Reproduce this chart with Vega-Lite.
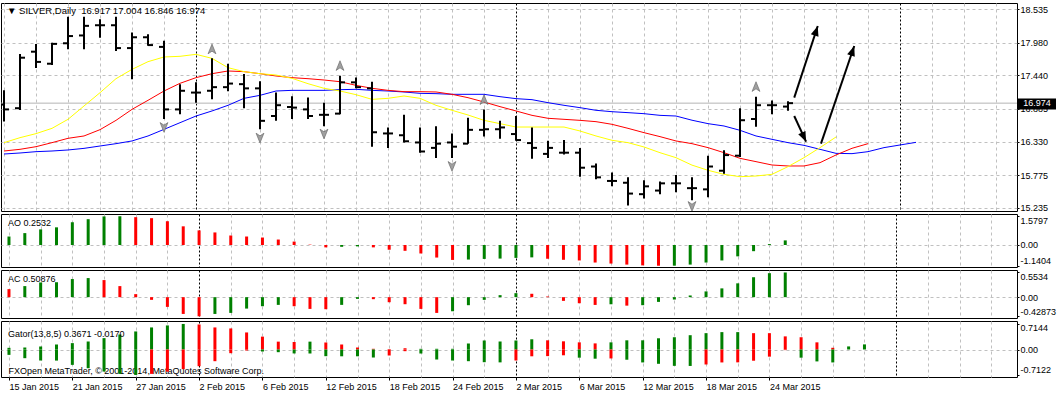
{
"$schema": "https://vega.github.io/schema/vega-lite/v6.json",
"padding": {"top": 2, "left": 0, "right": 0, "bottom": 0},
"background": "white",
"spacing": 3,
"bounds": "flush",
"resolve": {"scale": {"x": "independent", "y": "independent"}},
"config": {
 "view": {"stroke": "#000000", "strokeWidth": 1, "fill": "white"},
 "font": "Liberation Sans",
 "axis": {"labelFont": "Liberation Sans", "labelFontSize": 9, "labelColor": "#000000", "tickColor": "#000000", "domain": false, "titleFont": "Liberation Sans", "labelOverlap": false},
 "title": {"font": "Liberation Sans", "fontSize": 9, "fontWeight": "normal", "color": "#000000", "anchor": "start", "frame": "group", "baseline": "middle"}
},
"datasets": {
 "ohlc": [
  {"i":0,"date":"2015-01-15","open":16.95,"high":17.19,"low":16.67,"close":16.87},
  {"i":1,"date":"2015-01-16","open":16.89,"high":17.79,"low":16.86,"close":17.73},
  {"i":2,"date":"2015-01-19","open":17.83,"high":17.96,"low":17.56,"close":17.66},
  {"i":3,"date":"2015-01-20","open":17.63,"high":17.98,"low":17.61,"close":17.96},
  {"i":4,"date":"2015-01-21","open":17.97,"high":18.41,"low":17.87,"close":18.09},
  {"i":5,"date":"2015-01-22","open":18.10,"high":18.41,"low":17.87,"close":18.26},
  {"i":6,"date":"2015-01-23","open":18.27,"high":18.37,"low":18.06,"close":18.27},
  {"i":7,"date":"2015-01-26","open":18.27,"high":18.41,"low":17.84,"close":17.89},
  {"i":8,"date":"2015-01-27","open":17.89,"high":18.15,"low":17.37,"close":18.07},
  {"i":9,"date":"2015-01-28","open":18.07,"high":18.12,"low":17.93,"close":17.94},
  {"i":10,"date":"2015-01-29","open":17.91,"high":18.01,"low":16.71,"close":16.87},
  {"i":11,"date":"2015-01-30","open":16.87,"high":17.29,"low":16.79,"close":17.18},
  {"i":12,"date":"2015-02-02","open":17.15,"high":17.32,"low":16.98,"close":17.15},
  {"i":13,"date":"2015-02-03","open":17.18,"high":17.72,"low":17.04,"close":17.24},
  {"i":14,"date":"2015-02-04","open":17.24,"high":17.63,"low":17.17,"close":17.30},
  {"i":15,"date":"2015-02-05","open":17.29,"high":17.46,"low":16.89,"close":17.22},
  {"i":16,"date":"2015-02-06","open":17.22,"high":17.34,"low":16.54,"close":16.68},
  {"i":17,"date":"2015-02-09","open":16.76,"high":17.15,"low":16.68,"close":16.94},
  {"i":18,"date":"2015-02-10","open":16.91,"high":17.09,"low":16.71,"close":16.90},
  {"i":19,"date":"2015-02-11","open":16.87,"high":17.07,"low":16.71,"close":16.76},
  {"i":20,"date":"2015-02-12","open":16.78,"high":16.98,"low":16.59,"close":16.78},
  {"i":21,"date":"2015-02-13","open":16.80,"high":17.43,"low":16.79,"close":17.32},
  {"i":22,"date":"2015-02-16","open":17.32,"high":17.40,"low":17.22,"close":17.24},
  {"i":23,"date":"2015-02-17","open":17.22,"high":17.33,"low":16.25,"close":16.49},
  {"i":24,"date":"2015-02-18","open":16.47,"high":16.57,"low":16.23,"close":16.47},
  {"i":25,"date":"2015-02-19","open":16.44,"high":16.78,"low":16.32,"close":16.34},
  {"i":26,"date":"2015-02-20","open":16.32,"high":16.57,"low":16.15,"close":16.17},
  {"i":27,"date":"2015-02-23","open":16.23,"high":16.59,"low":16.06,"close":16.30},
  {"i":28,"date":"2015-02-24","open":16.32,"high":16.47,"low":16.06,"close":16.25},
  {"i":29,"date":"2015-02-25","open":16.30,"high":16.73,"low":16.30,"close":16.53},
  {"i":30,"date":"2015-02-26","open":16.53,"high":16.87,"low":16.42,"close":16.54},
  {"i":31,"date":"2015-02-27","open":16.54,"high":16.68,"low":16.38,"close":16.57},
  {"i":32,"date":"2015-03-02","open":16.46,"high":16.76,"low":16.35,"close":16.36},
  {"i":33,"date":"2015-03-03","open":16.31,"high":16.57,"low":16.05,"close":16.23},
  {"i":34,"date":"2015-03-04","open":16.13,"high":16.35,"low":16.06,"close":16.23},
  {"i":35,"date":"2015-03-05","open":16.15,"high":16.36,"low":16.12,"close":16.15},
  {"i":36,"date":"2015-03-06","open":16.15,"high":16.23,"low":15.75,"close":15.90},
  {"i":37,"date":"2015-03-09","open":15.92,"high":15.97,"low":15.71,"close":15.74},
  {"i":38,"date":"2015-03-10","open":15.68,"high":15.82,"low":15.59,"close":15.68},
  {"i":39,"date":"2015-03-11","open":15.65,"high":15.74,"low":15.27,"close":15.47},
  {"i":40,"date":"2015-03-12","open":15.46,"high":15.69,"low":15.39,"close":15.59},
  {"i":41,"date":"2015-03-13","open":15.52,"high":15.67,"low":15.46,"close":15.64},
  {"i":42,"date":"2015-03-16","open":15.64,"high":15.78,"low":15.49,"close":15.64},
  {"i":43,"date":"2015-03-17","open":15.56,"high":15.74,"low":15.36,"close":15.56},
  {"i":44,"date":"2015-03-18","open":15.54,"high":16.10,"low":15.41,"close":15.92},
  {"i":45,"date":"2015-03-19","open":15.85,"high":16.19,"low":15.80,"close":16.11},
  {"i":46,"date":"2015-03-20","open":16.10,"high":16.89,"low":16.08,"close":16.69},
  {"i":47,"date":"2015-03-23","open":16.71,"high":17.08,"low":16.58,"close":16.94},
  {"i":48,"date":"2015-03-24","open":16.94,"high":17.02,"low":16.79,"close":16.94},
  {"i":49,"date":"2015-03-25","open":16.917,"high":17.004,"low":16.846,"close":16.974}
 ],
 "jaw": [
  {"i":0,"v":16.128},{"i":1,"v":16.145},{"i":2,"v":16.167},{"i":3,"v":16.178},{"i":4,"v":16.195},{"i":5,"v":16.222},{"i":6,"v":16.261},{"i":7,"v":16.300},{"i":8,"v":16.345},{"i":9,"v":16.428},
  {"i":10,"v":16.538},{"i":11,"v":16.649},{"i":12,"v":16.760},{"i":13,"v":16.844},{"i":14,"v":16.938},{"i":15,"v":17.054},{"i":16,"v":17.104},{"i":17,"v":17.176},{"i":18,"v":17.187},{"i":19,"v":17.187},
  {"i":20,"v":17.187},{"i":21,"v":17.198},{"i":22,"v":17.204},{"i":23,"v":17.187},{"i":24,"v":17.176},{"i":25,"v":17.160},{"i":26,"v":17.137},{"i":27,"v":17.132},{"i":28,"v":17.121},{"i":29,"v":17.121},
  {"i":30,"v":17.121},{"i":31,"v":17.082},{"i":32,"v":17.049},{"i":33,"v":17.032},{"i":34,"v":16.982},{"i":35,"v":16.938},{"i":36,"v":16.899},{"i":37,"v":16.855},{"i":38,"v":16.832},{"i":39,"v":16.816},
  {"i":40,"v":16.799},{"i":41,"v":16.771},{"i":42,"v":16.760},{"i":43,"v":16.690},{"i":44,"v":16.633},{"i":45,"v":16.594},{"i":46,"v":16.522},{"i":47,"v":16.428},{"i":48,"v":16.372},{"i":49,"v":16.317},
  {"i":50,"v":16.272},{"i":51,"v":16.206},{"i":52,"v":16.139},{"i":53,"v":16.134},{"i":54,"v":16.167},{"i":55,"v":16.234},{"i":56,"v":16.278},{"i":57,"v":16.322}
 ],
 "teeth": [
  {"i":0,"v":16.178},{"i":1,"v":16.206},{"i":2,"v":16.250},{"i":3,"v":16.317},{"i":4,"v":16.389},{"i":5,"v":16.428},{"i":6,"v":16.533},{"i":7,"v":16.688},{"i":8,"v":16.871},{"i":9,"v":17.021},
  {"i":10,"v":17.176},{"i":11,"v":17.304},{"i":12,"v":17.398},{"i":13,"v":17.464},{"i":14,"v":17.509},{"i":15,"v":17.498},{"i":16,"v":17.464},{"i":17,"v":17.426},{"i":18,"v":17.398},{"i":19,"v":17.381},
  {"i":20,"v":17.359},{"i":21,"v":17.331},{"i":22,"v":17.270},{"i":23,"v":17.221},{"i":24,"v":17.187},{"i":25,"v":17.165},{"i":26,"v":17.165},{"i":27,"v":17.160},{"i":28,"v":17.121},{"i":29,"v":17.065},
  {"i":30,"v":16.993},{"i":31,"v":16.916},{"i":32,"v":16.844},{"i":33,"v":16.771},{"i":34,"v":16.722},{"i":35,"v":16.705},{"i":36,"v":16.688},{"i":37,"v":16.666},{"i":38,"v":16.622},{"i":39,"v":16.555},
  {"i":40,"v":16.483},{"i":41,"v":16.417},{"i":42,"v":16.345},{"i":43,"v":16.300},{"i":44,"v":16.234},{"i":45,"v":16.150},{"i":46,"v":16.056},{"i":47,"v":16.001},{"i":48,"v":15.945},{"i":49,"v":15.929},
  {"i":50,"v":15.929},{"i":51,"v":15.984},{"i":52,"v":16.112},{"i":53,"v":16.223},{"i":54,"v":16.300}
 ],
 "lips": [
  {"i":0,"v":16.317},{"i":1,"v":16.400},{"i":2,"v":16.467},{"i":3,"v":16.555},{"i":4,"v":16.705},{"i":5,"v":16.927},{"i":6,"v":17.148},{"i":7,"v":17.381},{"i":8,"v":17.536},{"i":9,"v":17.664},
  {"i":10,"v":17.742},{"i":11,"v":17.753},{"i":12,"v":17.786},{"i":13,"v":17.719},{"i":14,"v":17.564},{"i":15,"v":17.498},{"i":16,"v":17.464},{"i":17,"v":17.442},{"i":18,"v":17.387},{"i":19,"v":17.298},
  {"i":20,"v":17.221},{"i":21,"v":17.176},{"i":22,"v":17.115},{"i":23,"v":17.037},{"i":24,"v":17.054},{"i":25,"v":17.093},{"i":26,"v":17.054},{"i":27,"v":16.938},{"i":28,"v":16.855},{"i":29,"v":16.777},
  {"i":30,"v":16.688},{"i":31,"v":16.633},{"i":32,"v":16.577},{"i":33,"v":16.577},{"i":34,"v":16.577},{"i":35,"v":16.577},{"i":36,"v":16.511},{"i":37,"v":16.428},{"i":38,"v":16.356},{"i":39,"v":16.317},
  {"i":40,"v":16.245},{"i":41,"v":16.150},{"i":42,"v":16.067},{"i":43,"v":15.943},{"i":44,"v":15.857},{"i":45,"v":15.790},{"i":46,"v":15.751},{"i":47,"v":15.762},{"i":48,"v":15.790},{"i":49,"v":15.918},
  {"i":50,"v":16.067},{"i":51,"v":16.234},{"i":52,"v":16.411}
 ],
 "fractals": [
  {"i":10,"dir":"down","v":16.577},{"i":13,"dir":"up","v":17.869},{"i":16,"dir":"down","v":16.400},{"i":20,"dir":"down","v":16.467},{"i":21,"dir":"up","v":17.592},
  {"i":28,"dir":"down","v":15.929},{"i":30,"dir":"up","v":17.026},{"i":43,"dir":"down","v":15.263},{"i":47,"dir":"up","v":17.243}
 ],
 "arrows": [
  {"id":"a1","i":49.39,"v":17.065,"i2":50.86,"v2":18.257},
  {"id":"a2","i":49.39,"v":16.760,"i2":50.13,"v2":16.333},
  {"id":"a3","i":51.06,"v":16.300,"i2":53.14,"v2":17.925}
 ],
 "last": [{"price":16.974}],
 "ao": [
  {"i":0,"v":0.466,"d":"up"},{"i":1,"v":0.653,"d":"up"},{"i":2,"v":0.858,"d":"up"},{"i":3,"v":0.97,"d":"up"},{"i":4,"v":1.25,"d":"up"},{"i":5,"v":1.418,"d":"up"},{"i":6,"v":1.57,"d":"up"},{"i":7,"v":1.5797,"d":"up"},{"i":8,"v":1.53,"d":"dn"},{"i":9,"v":1.474,"d":"dn"},
  {"i":10,"v":1.306,"d":"dn"},{"i":11,"v":1.026,"d":"dn"},{"i":12,"v":0.802,"d":"dn"},{"i":13,"v":0.69,"d":"dn"},{"i":14,"v":0.522,"d":"dn"},{"i":15,"v":0.466,"d":"dn"},{"i":16,"v":0.41,"d":"dn"},{"i":17,"v":0.30,"d":"dn"},{"i":18,"v":0.187,"d":"dn"},{"i":19,"v":0.02,"d":"dn"},
  {"i":20,"v":-0.13,"d":"dn"},{"i":21,"v":-0.10,"d":"up"},{"i":22,"v":-0.075,"d":"up"},{"i":23,"v":-0.13,"d":"dn"},{"i":24,"v":-0.26,"d":"dn"},{"i":25,"v":-0.32,"d":"dn"},{"i":26,"v":-0.466,"d":"dn"},{"i":27,"v":-0.69,"d":"dn"},{"i":28,"v":-0.82,"d":"dn"},{"i":29,"v":-0.80,"d":"up"},
  {"i":30,"v":-0.765,"d":"up"},{"i":31,"v":-0.746,"d":"up"},{"i":32,"v":-0.709,"d":"up"},{"i":33,"v":-0.68,"d":"up"},{"i":34,"v":-0.756,"d":"dn"},{"i":35,"v":-0.813,"d":"dn"},{"i":36,"v":-0.85,"d":"dn"},{"i":37,"v":-0.964,"d":"dn"},{"i":38,"v":-1.02,"d":"dn"},{"i":39,"v":-1.077,"d":"dn"},
  {"i":40,"v":-1.12,"d":"dn"},{"i":41,"v":-1.1404,"d":"dn"},{"i":42,"v":-1.135,"d":"up"},{"i":43,"v":-1.077,"d":"up"},{"i":44,"v":-0.964,"d":"up"},{"i":45,"v":-0.85,"d":"up"},{"i":46,"v":-0.624,"d":"up"},{"i":47,"v":-0.34,"d":"up"},{"i":48,"v":0.05,"d":"up"},{"i":49,"v":0.2532,"d":"up"}
 ],
 "ac": [
  {"i":0,"v":0.18,"d":"dn"},{"i":1,"v":0.248,"d":"up"},{"i":2,"v":0.33,"d":"up"},{"i":3,"v":0.335,"d":"up"},{"i":4,"v":0.406,"d":"up"},{"i":5,"v":0.428,"d":"up"},{"i":6,"v":0.383,"d":"dn"},{"i":7,"v":0.248,"d":"dn"},{"i":8,"v":0.068,"d":"dn"},{"i":9,"v":-0.06,"d":"dn"},
  {"i":10,"v":-0.218,"d":"dn"},{"i":11,"v":-0.376,"d":"dn"},{"i":12,"v":-0.42873,"d":"dn"},{"i":13,"v":-0.376,"d":"up"},{"i":14,"v":-0.353,"d":"up"},{"i":15,"v":-0.256,"d":"up"},{"i":16,"v":-0.203,"d":"up"},{"i":17,"v":-0.173,"d":"up"},{"i":18,"v":-0.203,"d":"dn"},{"i":19,"v":-0.263,"d":"dn"},
  {"i":20,"v":-0.27,"d":"dn"},{"i":21,"v":-0.173,"d":"up"},{"i":22,"v":-0.038,"d":"up"},{"i":23,"v":-0.045,"d":"dn"},{"i":24,"v":-0.113,"d":"dn"},{"i":25,"v":-0.158,"d":"dn"},{"i":26,"v":-0.263,"d":"dn"},{"i":27,"v":-0.353,"d":"dn"},{"i":28,"v":-0.316,"d":"up"},{"i":29,"v":-0.18,"d":"up"},
  {"i":30,"v":-0.06,"d":"up"},{"i":31,"v":0.045,"d":"up"},{"i":32,"v":0.09,"d":"up"},{"i":33,"v":0.076,"d":"dn"},{"i":34,"v":0.015,"d":"dn"},{"i":35,"v":-0.083,"d":"dn"},{"i":36,"v":-0.136,"d":"dn"},{"i":37,"v":-0.174,"d":"dn"},{"i":38,"v":-0.159,"d":"up"},{"i":39,"v":-0.19,"d":"dn"},
  {"i":40,"v":-0.18,"d":"up"},{"i":41,"v":-0.106,"d":"up"},{"i":42,"v":-0.053,"d":"up"},{"i":43,"v":0.038,"d":"up"},{"i":44,"v":0.129,"d":"up"},{"i":45,"v":0.197,"d":"up"},{"i":46,"v":0.31,"d":"up"},{"i":47,"v":0.447,"d":"up"},{"i":48,"v":0.538,"d":"up"},{"i":49,"v":0.5534,"d":"up"}
 ],
 "gu": [
  {"i":0,"v":0.047,"d":"up"},{"i":1,"v":0.056,"d":"up"},{"i":2,"v":0.084,"d":"up"},{"i":3,"v":0.14,"d":"up"},{"i":4,"v":0.178,"d":"up"},{"i":5,"v":0.224,"d":"up"},{"i":6,"v":0.318,"d":"up"},{"i":7,"v":0.42,"d":"up"},{"i":8,"v":0.505,"d":"up"},{"i":9,"v":0.617,"d":"up"},
  {"i":10,"v":0.673,"d":"up"},{"i":11,"v":0.7144,"d":"up"},{"i":12,"v":0.70,"d":"dn"},{"i":13,"v":0.617,"d":"dn"},{"i":14,"v":0.589,"d":"dn"},{"i":15,"v":0.477,"d":"dn"},{"i":16,"v":0.36,"d":"dn"},{"i":17,"v":0.22,"d":"dn"},{"i":18,"v":0.21,"d":"dn"},{"i":19,"v":0.22,"d":"up"},
  {"i":20,"v":0.196,"d":"dn"},{"i":21,"v":0.14,"d":"dn"},{"i":22,"v":0.056,"d":"dn"},{"i":23,"v":0.02,"d":"dn"},{"i":24,"v":0.01,"d":"dn"},{"i":25,"v":0.035,"d":"dn"},{"i":26,"v":0.019,"d":"up"},{"i":27,"v":0.02,"d":"up"},{"i":28,"v":0.02,"d":"up"},{"i":29,"v":0.168,"d":"up"},
  {"i":30,"v":0.252,"d":"up"},{"i":31,"v":0.224,"d":"up"},{"i":32,"v":0.252,"d":"up"},{"i":33,"v":0.286,"d":"up"},{"i":34,"v":0.257,"d":"dn"},{"i":35,"v":0.229,"d":"dn"},{"i":36,"v":0.20,"d":"dn"},{"i":37,"v":0.171,"d":"dn"},{"i":38,"v":0.20,"d":"up"},{"i":39,"v":0.257,"d":"up"},
  {"i":40,"v":0.257,"d":"up"},{"i":41,"v":0.314,"d":"up"},{"i":42,"v":0.343,"d":"up"},{"i":43,"v":0.40,"d":"up"},{"i":44,"v":0.457,"d":"up"},{"i":45,"v":0.486,"d":"up"},{"i":46,"v":0.486,"d":"up"},{"i":47,"v":0.457,"d":"dn"},{"i":48,"v":0.457,"d":"dn"},{"i":49,"v":0.3671,"d":"dn"},
  {"i":50,"v":0.343,"d":"dn"},{"i":51,"v":0.20,"d":"dn"},{"i":52,"v":0.048,"d":"dn"},{"i":53,"v":0.086,"d":"up"},{"i":54,"v":0.143,"d":"up"}
 ],
 "gl": [
  {"i":0,"v":-0.15,"d":"up"},{"i":1,"v":-0.243,"d":"up"},{"i":2,"v":-0.308,"d":"up"},{"i":3,"v":-0.31,"d":"up"},{"i":4,"v":-0.43,"d":"up"},{"i":5,"v":-0.523,"d":"up"},{"i":6,"v":-0.617,"d":"up"},{"i":7,"v":-0.682,"d":"up"},{"i":8,"v":-0.7122,"d":"up"},{"i":9,"v":-0.682,"d":"dn"},
  {"i":10,"v":-0.62,"d":"dn"},{"i":11,"v":-0.55,"d":"dn"},{"i":12,"v":-0.467,"d":"dn"},{"i":13,"v":-0.327,"d":"dn"},{"i":14,"v":-0.103,"d":"dn"},{"i":15,"v":-0.028,"d":"dn"},{"i":16,"v":-0.056,"d":"up"},{"i":17,"v":-0.075,"d":"up"},{"i":18,"v":-0.11,"d":"up"},{"i":19,"v":-0.112,"d":"up"},
  {"i":20,"v":-0.187,"d":"up"},{"i":21,"v":-0.19,"d":"up"},{"i":22,"v":-0.19,"d":"up"},{"i":23,"v":-0.224,"d":"up"},{"i":24,"v":-0.168,"d":"dn"},{"i":25,"v":-0.047,"d":"dn"},{"i":26,"v":-0.112,"d":"up"},{"i":27,"v":-0.28,"d":"up"},{"i":28,"v":-0.308,"d":"up"},{"i":29,"v":-0.327,"d":"up"},
  {"i":30,"v":-0.355,"d":"up"},{"i":31,"v":-0.36,"d":"up"},{"i":32,"v":-0.308,"d":"dn"},{"i":33,"v":-0.19,"d":"dn"},{"i":34,"v":-0.185,"d":"dn"},{"i":35,"v":-0.162,"d":"dn"},{"i":36,"v":-0.229,"d":"up"},{"i":37,"v":-0.257,"d":"up"},{"i":38,"v":-0.25,"d":"dn"},{"i":39,"v":-0.286,"d":"up"},
  {"i":40,"v":-0.362,"d":"up"},{"i":41,"v":-0.40,"d":"up"},{"i":42,"v":-0.457,"d":"up"},{"i":43,"v":-0.46,"d":"up"},{"i":44,"v":-0.419,"d":"dn"},{"i":45,"v":-0.362,"d":"dn"},{"i":46,"v":-0.36,"d":"dn"},{"i":47,"v":-0.314,"d":"dn"},{"i":48,"v":-0.20,"d":"dn"},{"i":49,"v":-0.017,"d":"dn"},
  {"i":50,"v":-0.229,"d":"up"},{"i":51,"v":-0.333,"d":"up"},{"i":52,"v":-0.362,"d":"up"}
 ]
},
"vconcat": [
 {
  "width": 1016, "height": 208,
  "title": {"text": "▼ SILVER,Daily\u00a0 16.917 17.004 16.846 16.974", "offset": -12, "dx": 6, "fontSize": 9.5},
  "resolve": {"axis": {"x": "independent", "y": "independent"}},
  "layer": [
   {"data": {"name": "last"}, "mark": {"type": "rule", "color": "#b4b4b4", "strokeWidth": 1},
    "encoding": {"y": {"field": "price", "type": "quantitative", "title": null, "scale": {"domain": [15.18, 18.64], "nice": false, "zero": false},
      "axis": {"orient": "right", "values": [18.535, 17.98, 17.44, 16.885, 16.33, 15.775, 15.235], "labelExpr": "format(datum.value, '.3f')", "labelOverlap": false, "labelSeparation": 0, "grid": true, "gridColor": "#c0c0c0", "gridDash": [3, 3], "tickSize": 2, "labelPadding": 1, "title": null, "domain": false}}}},
   {"data": {"name": "jaw"}, "mark": {"type": "line", "color": "#0000ff", "strokeWidth": 1},
    "encoding": {"x": {"field": "i", "type": "quantitative", "title": null, "scale": {"domain": [-0.1875, 63.3125], "nice": false, "zero": false},
      "axis": {"values": [0,2,4,6,8,10,12,14,16,18,20,22,24,26,28,30,32,34,36,38,40,42,44,46,48,50,52,54,56,58,60,62], "grid": true, "labels": false, "ticks": false, "domain": false, "title": null,
       "gridColor": {"condition": {"test": "datum.value == 12 || datum.value == 32 || datum.value == 56", "value": "#000000"}, "value": "#c0c0c0"},
       "gridDash": {"condition": {"test": "datum.value == 12 || datum.value == 32 || datum.value == 56", "value": [2, 2]}, "value": [3, 3]}}},
     "y": {"field": "v", "type": "quantitative", "title": null, "axis": null, "scale": {"domain": [15.18, 18.64], "nice": false, "zero": false}}}},
   {"data": {"name": "teeth"}, "mark": {"type": "line", "color": "#ff0000", "strokeWidth": 1},
    "encoding": {"x": {"field": "i", "type": "quantitative", "title": null, "axis": null, "scale": {"domain": [-0.1875, 63.3125], "nice": false, "zero": false}},
     "y": {"field": "v", "type": "quantitative", "title": null, "axis": null, "scale": {"domain": [15.18, 18.64], "nice": false, "zero": false}}}},
   {"data": {"name": "lips"}, "mark": {"type": "line", "color": "#ffff00", "strokeWidth": 1},
    "encoding": {"x": {"field": "i", "type": "quantitative", "title": null, "axis": null, "scale": {"domain": [-0.1875, 63.3125], "nice": false, "zero": false}},
     "y": {"field": "v", "type": "quantitative", "title": null, "axis": null, "scale": {"domain": [15.18, 18.64], "nice": false, "zero": false}}}},
   {"data": {"name": "ohlc"}, "mark": {"type": "rule", "color": "#000000", "strokeWidth": 2},
    "encoding": {"x": {"field": "i", "type": "quantitative", "title": null, "axis": null, "scale": {"domain": [-0.1875, 63.3125], "nice": false, "zero": false}},
     "y": {"field": "low", "type": "quantitative", "title": null, "axis": null, "scale": {"domain": [15.18, 18.64], "nice": false, "zero": false}},
     "y2": {"field": "high"}}},
   {"data": {"name": "ohlc"}, "mark": {"type": "rule", "color": "#000000", "strokeWidth": 2, "xOffset": -5, "x2Offset": 0, "clip": true},
    "encoding": {"x": {"field": "i", "type": "quantitative", "title": null, "axis": null, "scale": {"domain": [-0.1875, 63.3125], "nice": false, "zero": false}},
     "x2": {"field": "i"},
     "y": {"field": "open", "type": "quantitative", "title": null, "axis": null, "scale": {"domain": [15.18, 18.64], "nice": false, "zero": false}}}},
   {"data": {"name": "ohlc"}, "mark": {"type": "rule", "color": "#000000", "strokeWidth": 2, "xOffset": 0, "x2Offset": 5},
    "encoding": {"x": {"field": "i", "type": "quantitative", "title": null, "axis": null, "scale": {"domain": [-0.1875, 63.3125], "nice": false, "zero": false}},
     "x2": {"field": "i"},
     "y": {"field": "close", "type": "quantitative", "title": null, "axis": null, "scale": {"domain": [15.18, 18.64], "nice": false, "zero": false}}}},
   {"data": {"name": "fractals"}, "mark": {"type": "point", "filled": true, "color": "#a0a0a0", "stroke": "#606060", "strokeWidth": 0.6, "opacity": 1, "size": 110, "clip": true},
    "encoding": {"x": {"field": "i", "type": "quantitative", "title": null, "axis": null, "scale": {"domain": [-0.1875, 63.3125], "nice": false, "zero": false}},
     "y": {"field": "v", "type": "quantitative", "title": null, "axis": null, "scale": {"domain": [15.18, 18.64], "nice": false, "zero": false}},
     "shape": {"field": "dir", "type": "nominal", "legend": null, "scale": {"domain": ["up", "down"], "range": ["M0,-1L0.75,0.85L0,0.35L-0.75,0.85Z", "M0,1L0.75,-0.85L0,-0.35L-0.75,-0.85Z"]}}}},
   {"data": {"name": "arrows"}, "mark": {"type": "rule", "color": "#000000", "strokeWidth": 2},
    "encoding": {"x": {"field": "i", "type": "quantitative", "title": null, "axis": null, "scale": {"domain": [-0.1875, 63.3125], "nice": false, "zero": false}},
     "x2": {"field": "i2"},
     "y": {"field": "v", "type": "quantitative", "title": null, "axis": null, "scale": {"domain": [15.18, 18.64], "nice": false, "zero": false}},
     "y2": {"field": "v2"}}},
   {"data": {"name": "arrows"}, "transform": [{"filter": "datum.id == 'a1'"}], "mark": {"type": "point", "shape": "M0,0L0.4,1L-0.4,1Z", "filled": true, "color": "#000000", "opacity": 1, "size": 400, "angle": 18},
    "encoding": {"x": {"field": "i2", "type": "quantitative", "title": null, "axis": null, "scale": {"domain": [-0.1875, 63.3125], "nice": false, "zero": false}},
     "y": {"field": "v2", "type": "quantitative", "title": null, "axis": null, "scale": {"domain": [15.18, 18.64], "nice": false, "zero": false}}}},
   {"data": {"name": "arrows"}, "transform": [{"filter": "datum.id == 'a2'"}], "mark": {"type": "point", "shape": "M0,0L0.4,1L-0.4,1Z", "filled": true, "color": "#000000", "opacity": 1, "size": 400, "angle": 155},
    "encoding": {"x": {"field": "i2", "type": "quantitative", "title": null, "axis": null, "scale": {"domain": [-0.1875, 63.3125], "nice": false, "zero": false}},
     "y": {"field": "v2", "type": "quantitative", "title": null, "axis": null, "scale": {"domain": [15.18, 18.64], "nice": false, "zero": false}}}},
   {"data": {"name": "arrows"}, "transform": [{"filter": "datum.id == 'a3'"}], "mark": {"type": "point", "shape": "M0,0L0.4,1L-0.4,1Z", "filled": true, "color": "#000000", "opacity": 1, "size": 400, "angle": 19},
    "encoding": {"x": {"field": "i2", "type": "quantitative", "title": null, "axis": null, "scale": {"domain": [-0.1875, 63.3125], "nice": false, "zero": false}},
     "y": {"field": "v2", "type": "quantitative", "title": null, "axis": null, "scale": {"domain": [15.18, 18.64], "nice": false, "zero": false}}}},
   {"data": {"name": "last"}, "mark": {"type": "rect", "color": "#000000"},
    "encoding": {"x": {"datum": 63.37, "type": "quantitative", "axis": null, "scale": {"domain": [-0.1875, 63.3125], "nice": false, "zero": false}},
     "x2": {"datum": 65.75},
     "y": {"datum": 17.05, "type": "quantitative", "axis": null, "scale": {"domain": [15.18, 18.64], "nice": false, "zero": false}},
     "y2": {"datum": 16.87}}},
   {"data": {"name": "last"}, "mark": {"type": "text", "color": "#ffffff", "fontSize": 9, "font": "Liberation Sans", "align": "center", "baseline": "middle"},
    "encoding": {"x": {"datum": 64.56, "type": "quantitative", "axis": null, "scale": {"domain": [-0.1875, 63.3125], "nice": false, "zero": false}},
     "y": {"field": "price", "type": "quantitative", "title": null, "axis": null, "scale": {"domain": [15.18, 18.64], "nice": false, "zero": false}},
     "text": {"field": "price", "type": "quantitative", "format": ".3f"}}}
  ]
 },
 {
  "width": 1016, "height": 53,
  "title": {"text": "AO 0.2532", "offset": -13.5, "dx": 7},
  "data": {"name": "ao"},
  "mark": {"type": "bar", "size": 3},
  "encoding": {
   "x": {"field": "i", "type": "quantitative", "title": null, "scale": {"domain": [-0.1875, 63.3125], "nice": false, "zero": false},
    "axis": {"values": [0,2,4,6,8,10,12,14,16,18,20,22,24,26,28,30,32,34,36,38,40,42,44,46,48,50,52,54,56,58,60,62], "grid": true, "labels": false, "ticks": false, "domain": false, "title": null,
     "gridColor": {"condition": {"test": "datum.value == 12 || datum.value == 32 || datum.value == 56", "value": "#000000"}, "value": "#c0c0c0"},
     "gridDash": {"condition": {"test": "datum.value == 12 || datum.value == 32 || datum.value == 56", "value": [2, 2]}, "value": [3, 3]}}},
   "y": {"field": "v", "type": "quantitative", "title": null, "scale": {"domain": [-1.209, 1.703], "nice": false},
    "axis": {"orient": "right", "values": [1.5797, 0, -1.1404], "labelExpr": "datum.value == 0 ? '0.00' : '' + datum.value", "labelOverlap": false, "grid": true, "gridColor": "#c0c0c0", "gridDash": [3, 3],
     "gridOpacity": {"condition": {"test": "datum.value == 0", "value": 1}, "value": 0}, "tickSize": 2, "labelPadding": 1, "title": null, "domain": false,
     "labelBaseline": {"condition": [{"test": "datum.value > 0", "value": "top"}, {"test": "datum.value < 0", "value": "bottom"}], "value": "middle"}}},
   "color": {"field": "d", "type": "nominal", "legend": null, "scale": {"domain": ["up", "dn"], "range": ["#008000", "#ff0000"]}}
  }
 },
 {
  "width": 1016, "height": 48,
  "title": {"text": "AC 0.50876", "offset": -14, "dx": 7},
  "data": {"name": "ac"},
  "mark": {"type": "bar", "size": 3},
  "encoding": {
   "x": {"field": "i", "type": "quantitative", "title": null, "scale": {"domain": [-0.1875, 63.3125], "nice": false, "zero": false},
    "axis": {"values": [0,2,4,6,8,10,12,14,16,18,20,22,24,26,28,30,32,34,36,38,40,42,44,46,48,50,52,54,56,58,60,62], "grid": true, "labels": false, "ticks": false, "domain": false, "title": null,
     "gridColor": {"condition": {"test": "datum.value == 12 || datum.value == 32 || datum.value == 56", "value": "#000000"}, "value": "#c0c0c0"},
     "gridDash": {"condition": {"test": "datum.value == 12 || datum.value == 32 || datum.value == 56", "value": [2, 2]}, "value": [3, 3]}}},
   "y": {"field": "v", "type": "quantitative", "title": null, "scale": {"domain": [-0.467, 0.609], "nice": false},
    "axis": {"orient": "right", "values": [0.5534, 0, -0.42873], "labelExpr": "datum.value == 0 ? '0.00' : '' + datum.value", "labelOverlap": false, "grid": true, "gridColor": "#c0c0c0", "gridDash": [3, 3],
     "gridOpacity": {"condition": {"test": "datum.value == 0", "value": 1}, "value": 0}, "tickSize": 2, "labelPadding": 1, "title": null, "domain": false,
     "labelBaseline": {"condition": [{"test": "datum.value > 0", "value": "top"}, {"test": "datum.value < 0", "value": "bottom"}], "value": "middle"}}},
   "color": {"field": "d", "type": "nominal", "legend": null, "scale": {"domain": ["up", "dn"], "range": ["#008000", "#ff0000"]}}
  }
 },
 {
  "width": 1016, "height": 56,
  "title": {"text": "Gator(13,8,5) 0.3671 -0.0170", "offset": -18, "dx": 7},
  "resolve": {"axis": {"x": "independent", "y": "independent"}},
  "layer": [
   {"data": {"name": "gu"}, "mark": {"type": "bar", "size": 3},
    "encoding": {
     "x": {"field": "i", "type": "quantitative", "scale": {"domain": [-0.1875, 63.3125], "nice": false, "zero": false},
      "axis": {"values": [0,2,4,6,8,10,12,14,16,18,20,22,24,26,28,30,32,34,36,38,40,42,44,46,48,50,52,54,56,58,60,62], "grid": true, "domain": false,
       "gridColor": {"condition": {"test": "datum.value == 12 || datum.value == 32 || datum.value == 56", "value": "#000000"}, "value": "#c0c0c0"},
       "gridDash": {"condition": {"test": "datum.value == 12 || datum.value == 32 || datum.value == 56", "value": [2, 2]}, "value": [3, 3]},
       "tickSize": 3, "tickColor": "#000000",
       "tickOpacity": {"condition": {"test": "datum.value % 4 == 0 && datum.value <= 48", "value": 1}, "value": 0},
       "labelExpr": "datum.value % 4 == 0 && datum.value <= 48 ? ['15 Jan 2015','21 Jan 2015','27 Jan 2015','2 Feb 2015','6 Feb 2015','12 Feb 2015','18 Feb 2015','24 Feb 2015','2 Mar 2015','6 Mar 2015','12 Mar 2015','18 Mar 2015','24 Mar 2015'][datum.value / 4] : ''",
       "labelAlign": "left", "labelFlush": false, "labelBound": false, "labelPadding": 2, "labelOverlap": false,
       "title": "FXOpen MetaTrader, © 2001-2014, MetaQuotes Software Corp.", "titleX": 7, "titleY": -7, "titleAlign": "left", "titleAnchor": "start", "titleBaseline": "middle",
       "titleFontSize": 9, "titleFontWeight": "normal", "titleColor": "#000000", "titleFont": "Liberation Sans"}},
     "y": {"field": "v", "type": "quantitative", "title": null, "scale": {"domain": [-0.769, 0.797], "nice": false},
      "axis": {"orient": "right", "values": [0.7144, 0, -0.7122], "labelExpr": "datum.value == 0 ? '0.00' : '' + datum.value", "labelOverlap": false, "grid": true, "gridColor": "#c0c0c0", "gridDash": [3, 3],
       "gridOpacity": {"condition": {"test": "datum.value == 0", "value": 1}, "value": 0}, "tickSize": 2, "labelPadding": 1, "title": null, "domain": false,
       "labelBaseline": {"condition": [{"test": "datum.value > 0", "value": "top"}, {"test": "datum.value < 0", "value": "bottom"}], "value": "middle"}}},
     "color": {"field": "d", "type": "nominal", "legend": null, "scale": {"domain": ["up", "dn"], "range": ["#008000", "#ff0000"]}}
    }},
   {"data": {"name": "gl"}, "mark": {"type": "bar", "size": 3},
    "encoding": {
     "x": {"field": "i", "type": "quantitative", "axis": null, "scale": {"domain": [-0.1875, 63.3125], "nice": false, "zero": false}},
     "y": {"field": "v", "type": "quantitative", "title": null, "axis": null, "scale": {"domain": [-0.769, 0.797], "nice": false}},
     "color": {"field": "d", "type": "nominal", "legend": null, "scale": {"domain": ["up", "dn"], "range": ["#008000", "#ff0000"]}}
    }}
  ]
 }
]
}
